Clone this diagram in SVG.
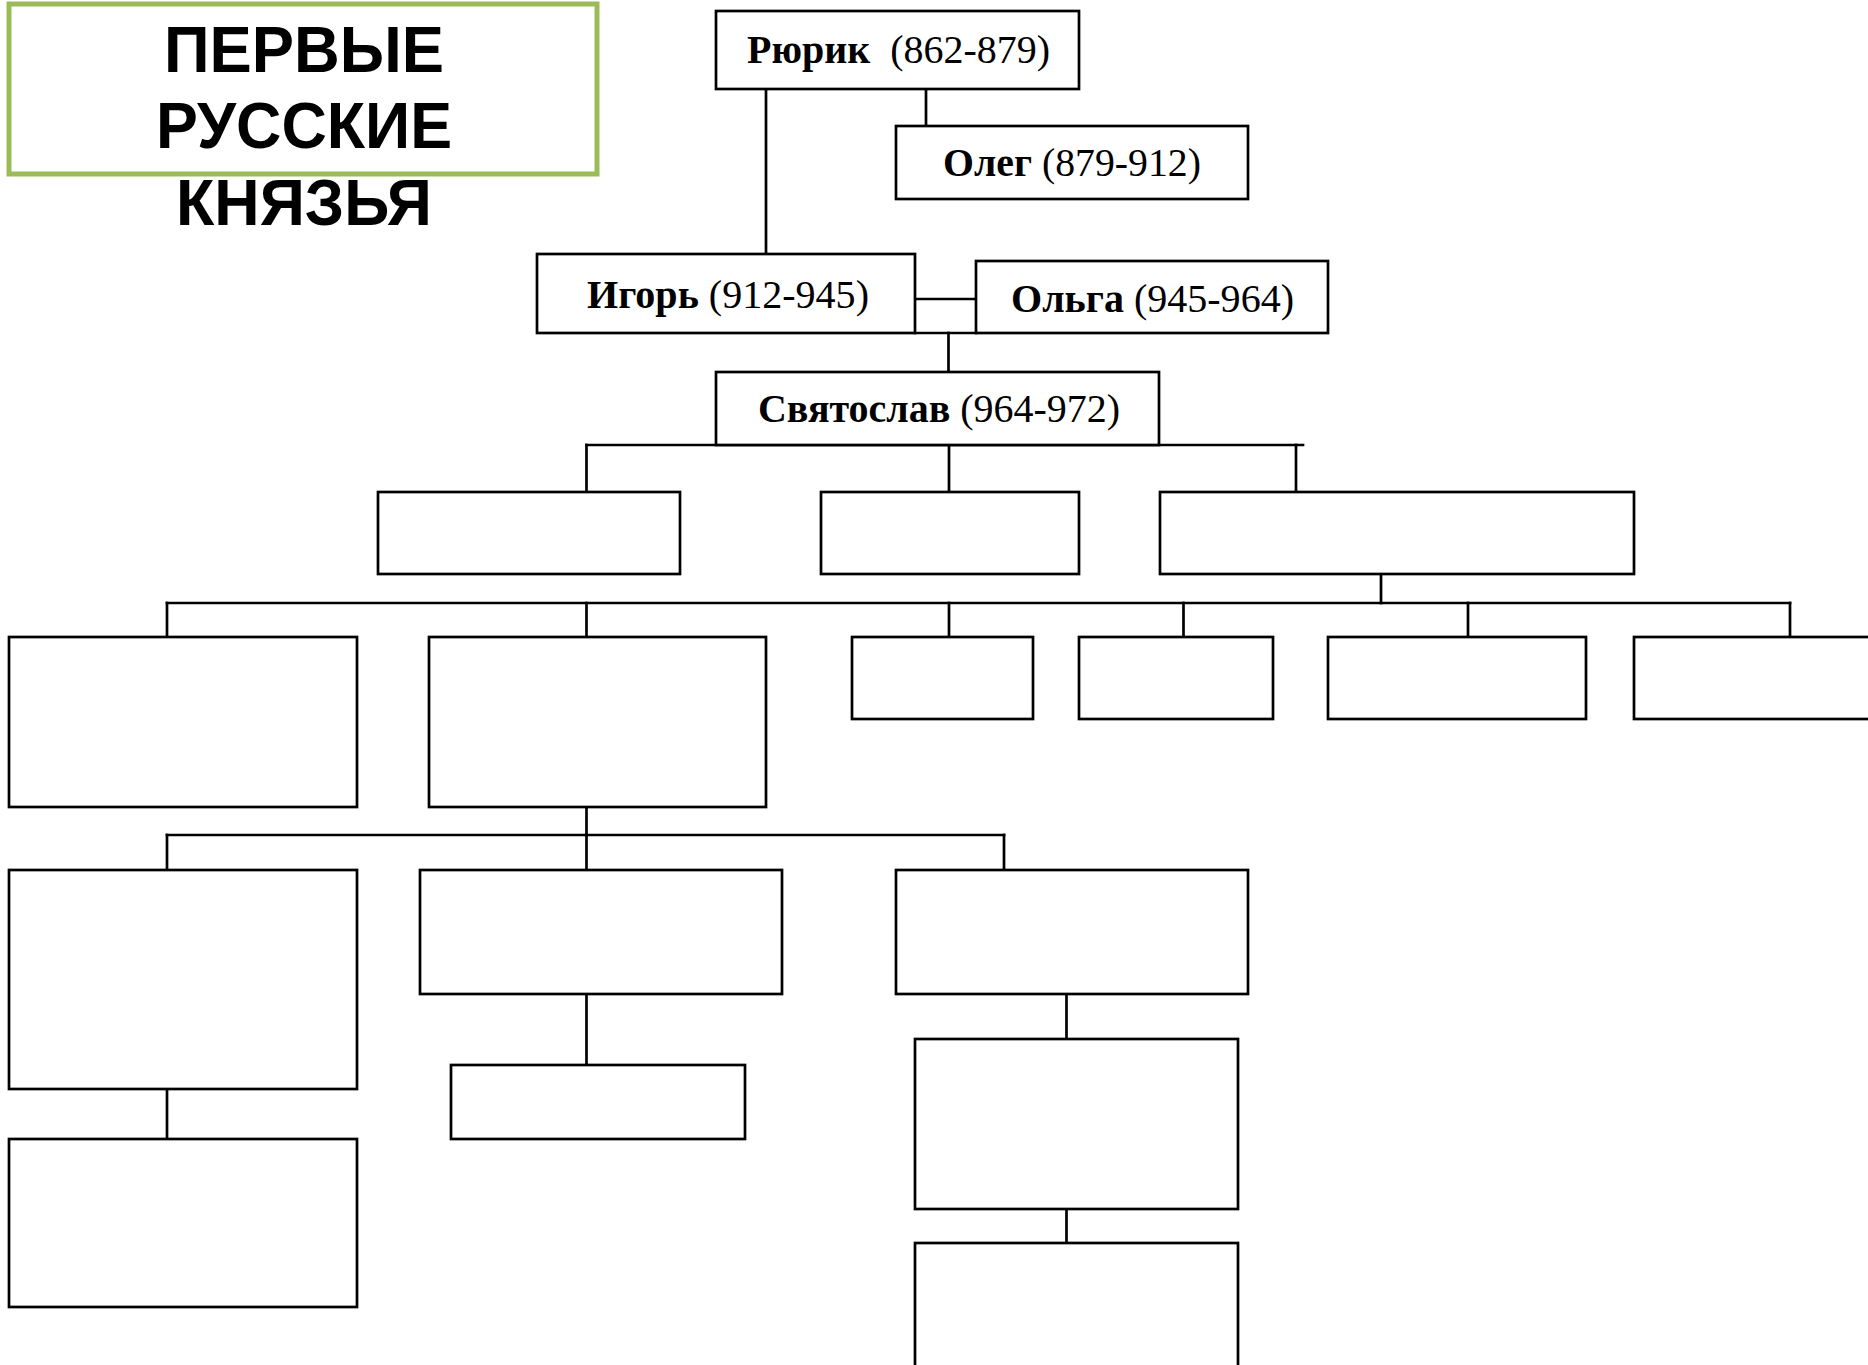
<svg xmlns="http://www.w3.org/2000/svg" width="1868" height="1365" viewBox="0 0 1868 1365">
<style>
.bg{fill:#ffffff}
.box{fill:#ffffff;stroke:#000000;stroke-width:2.7}
.con{fill:none;stroke:#000000;stroke-width:2.7;stroke-linecap:square}
.title{font-family:"Liberation Sans",Arial,sans-serif;font-weight:bold;font-size:65px;fill:#000000}
.lbl{font-family:"Liberation Serif","Times New Roman",serif;font-size:40px;fill:#000000}
.nm{font-weight:bold}
</style>
<rect class="bg" x="0" y="0" width="1868" height="1365"/>

<g id="title">
<rect x="9" y="4" width="588" height="170" fill="#ffffff" stroke="#9bbb59" stroke-width="5"/>
<text class="title" x="164" y="72" textLength="280" lengthAdjust="spacingAndGlyphs">ПЕРВЫЕ</text>
<text class="title" x="156" y="148" textLength="296" lengthAdjust="spacingAndGlyphs">РУССКИЕ</text>
<text class="title" x="176" y="225" textLength="256" lengthAdjust="spacingAndGlyphs">КНЯЗЬЯ</text>
</g>

<g id="connectors">
<path class="con" d="M766 89 V254"/>
<path class="con" d="M926 89 V126"/>
<path class="con" d="M915 299 H976"/>
<path class="con" d="M915 333 H976"/>
<path class="con" d="M948.5 333 V372"/>
<path class="con" d="M586.5 445 H1303"/>
<path class="con" d="M586.5 445 V492"/>
<path class="con" d="M949 445 V492"/>
<path class="con" d="M1296 445 V492"/>
<path class="con" d="M1381 574 V603"/>
<path class="con" d="M167 603 H1790"/>
<path class="con" d="M167 603 V637"/>
<path class="con" d="M586.5 603 V637"/>
<path class="con" d="M949 603 V637"/>
<path class="con" d="M1183.5 603 V637"/>
<path class="con" d="M1468 603 V637"/>
<path class="con" d="M1790 603 V637"/>
<path class="con" d="M586.5 807 V835"/>
<path class="con" d="M167 835 H1004"/>
<path class="con" d="M167 835 V870"/>
<path class="con" d="M586.5 835 V870"/>
<path class="con" d="M1004 835 V870"/>
<path class="con" d="M167 1089 V1139"/>
<path class="con" d="M586.5 994 V1065"/>
<path class="con" d="M1066.5 994 V1039"/>
<path class="con" d="M1066.5 1209 V1243"/>
</g>

<g id="rurik">
<rect class="box" x="716" y="11" width="363" height="78"/>
<text class="lbl" x="747" y="63" textLength="303" lengthAdjust="spacingAndGlyphs"><tspan class="nm">Рюрик</tspan> <tspan dx="10">(862-879)</tspan></text>
</g>
<g id="oleg">
<rect class="box" x="896" y="126" width="352" height="73"/>
<text class="lbl" x="943" y="176" textLength="258" lengthAdjust="spacingAndGlyphs"><tspan class="nm">Олег</tspan> (879-912)</text>
</g>
<g id="igor">
<rect class="box" x="537" y="254" width="378" height="79"/>
<text class="lbl" x="587" y="308" textLength="282" lengthAdjust="spacingAndGlyphs"><tspan class="nm">Игорь</tspan> (912-945)</text>
</g>
<g id="olga">
<rect class="box" x="976" y="261" width="352" height="72"/>
<text class="lbl" x="1011" y="312" textLength="283" lengthAdjust="spacingAndGlyphs"><tspan class="nm">Ольга</tspan> (945-964)</text>
</g>
<g id="svyatoslav">
<rect class="box" x="716" y="372" width="443" height="73"/>
<text class="lbl" x="758" y="422" textLength="362" lengthAdjust="spacingAndGlyphs"><tspan class="nm">Святослав</tspan> (964-972)</text>
</g>

<g id="n4a"><rect class="box" x="378" y="492" width="302" height="82"/></g>
<g id="n4b"><rect class="box" x="821" y="492" width="258" height="82"/></g>
<g id="n4c"><rect class="box" x="1160" y="492" width="474" height="82"/></g>

<g id="n5a"><rect class="box" x="9" y="637" width="348" height="170"/></g>
<g id="n5b"><rect class="box" x="429" y="637" width="337" height="170"/></g>
<g id="n5c"><rect class="box" x="852" y="637" width="181" height="82"/></g>
<g id="n5d"><rect class="box" x="1079" y="637" width="194" height="82"/></g>
<g id="n5e"><rect class="box" x="1328" y="637" width="258" height="82"/></g>
<g id="n5f"><rect class="box" x="1634" y="637" width="250" height="82"/></g>

<g id="n6a"><rect class="box" x="9" y="870" width="348" height="219"/></g>
<g id="n6b"><rect class="box" x="420" y="870" width="362" height="124"/></g>
<g id="n6c"><rect class="box" x="896" y="870" width="352" height="124"/></g>

<g id="n7a"><rect class="box" x="9" y="1139" width="348" height="168"/></g>
<g id="n7b"><rect class="box" x="451" y="1065" width="294" height="74"/></g>
<g id="n7c"><rect class="box" x="915" y="1039" width="323" height="170"/></g>
<g id="n8c"><rect class="box" x="915" y="1243" width="323" height="140"/></g>
</svg>
